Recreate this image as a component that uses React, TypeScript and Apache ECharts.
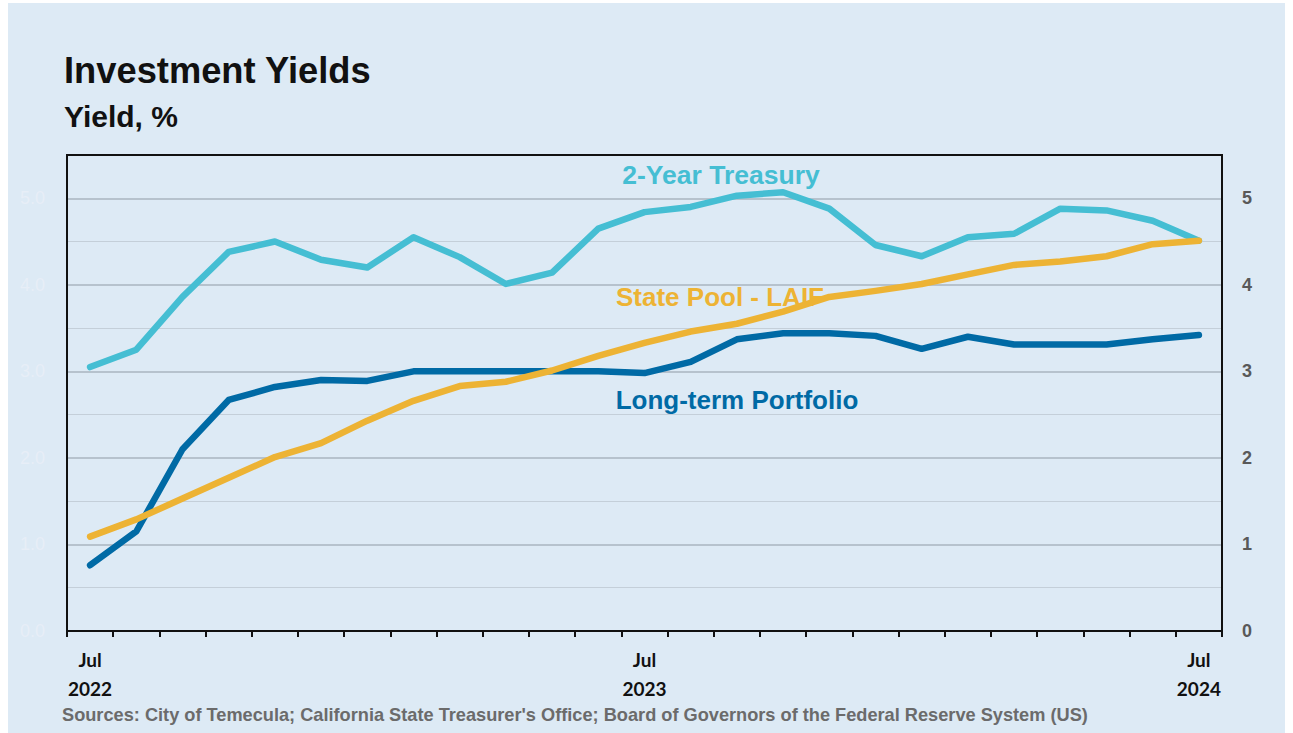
import React, { useEffect, useRef } from "react";
import * as echarts from "echarts";

const months = [
  "Jul 2022", "Aug 2022", "Sep 2022", "Oct 2022", "Nov 2022", "Dec 2022",
  "Jan 2023", "Feb 2023", "Mar 2023", "Apr 2023", "May 2023", "Jun 2023",
  "Jul 2023", "Aug 2023", "Sep 2023", "Oct 2023", "Nov 2023", "Dec 2023",
  "Jan 2024", "Feb 2024", "Mar 2024", "Apr 2024", "May 2024", "Jun 2024",
  "Jul 2024",
];

const treasury2y = [
  3.05, 3.25, 3.86, 4.38, 4.5, 4.29, 4.2, 4.55, 4.32, 4.01, 4.14, 4.65,
  4.84, 4.9, 5.03, 5.07, 4.88, 4.46, 4.33, 4.55, 4.59, 4.88, 4.86, 4.74, 4.51,
];

const longTermPortfolio = [
  0.76, 1.15, 2.1, 2.67, 2.82, 2.9, 2.89, 3.0, 3.0, 3.0, 3.0, 3.0,
  2.98, 3.11, 3.37, 3.44, 3.44, 3.41, 3.26, 3.4, 3.31, 3.31, 3.31, 3.37, 3.42,
];

const statePoolLAIF = [
  1.09, 1.29, 1.53, 1.77, 2.01, 2.17, 2.43, 2.66, 2.83, 2.88, 3.01, 3.18,
  3.33, 3.46, 3.55, 3.69, 3.86, 3.93, 4.01, 4.12, 4.23, 4.27, 4.33, 4.47, 4.51,
];

const titleText = "Investment Yields";
const subtitleText = "Yield, %";
const sourceText =
  "Sources: City of Temecula; California State Treasurer's Office; Board of Governors of the Federal Reserve System (US)";

const C_TREASURY = "#45bed3";
const C_LONG = "#006aa5";
const C_LAIF = "#edb334";

const W = 1277;
const H = 730;
const G_LEFT = 59;
const G_RIGHT = 63;
const G_TOP = 152;
const G_BOTTOM = 102;

export default function App() {
  const ref = useRef<HTMLDivElement>(null);

  useEffect(() => {
    if (!ref.current) return;
    const chart = echarts.init(ref.current, undefined, { renderer: "svg" });
    const lineSeries = (name: string, data: number[], color: string, yAxisIndex = 0) => ({
      name,
      type: "line",
      data,
      yAxisIndex,
      symbol: "none",
      z: 5,
      lineStyle: { color, width: 6.5, cap: "round", join: "round" },
      itemStyle: { color },
    });
    chart.setOption({
      animation: false,
      backgroundColor: "#ddeaf5",
      grid: {
        left: G_LEFT,
        right: G_RIGHT,
        top: G_TOP,
        bottom: G_BOTTOM,
        show: false,
      },
      xAxis: {
        type: "category",
        data: months,
        boundaryGap: true,
        axisLine: { show: true, lineStyle: { color: "#111", width: 2 } },
        axisTick: {
          show: true,
          interval: 0,
          length: 6,
          inside: false,
          lineStyle: { color: "#111", width: 2 },
        },
        axisLabel: {
          interval: (i: number) => i % 12 === 0,
          formatter: (v: string) => {
            const [m, y] = v.split(" ");
            return m + "\n" + y;
          },
          fontFamily: "Lato",
          fontWeight: "bold",
          fontSize: 19,
          color: "#111",
          lineHeight: 29,
          margin: 14,
        },
        splitLine: { show: false },
      },
      yAxis: [
        {
          type: "value",
          position: "left",
          min: 0,
          max: 5.5,
          interval: 0.5,
          axisLine: { show: false },
          axisTick: { show: false },
          axisLabel: {
            formatter: (v: number) => (Math.abs(v - Math.round(v)) < 1e-6 ? v.toFixed(1) : ""),
            color: "#e7eef7",
            fontFamily: "Liberation Sans",
            fontSize: 18,
            margin: 22,
          },
          splitLine: { show: true, lineStyle: { color: "#c4cfd9", width: 1.2 } },
        },
        {
          type: "value",
          position: "right",
          min: 0,
          max: 5.5,
          interval: 1,
          axisLine: { show: false },
          axisTick: { show: false },
          axisLabel: {
            formatter: (v: number) => (Math.abs(v - Math.round(v)) < 1e-6 ? String(v) : ""),
            color: "#595959",
            fontFamily: "Liberation Sans",
            fontWeight: "bold",
            fontSize: 18,
            margin: 20,
          },
          splitLine: { show: true, lineStyle: { color: "#b6c2cd", width: 2.2 } },
        },
      ],
      series: [
        lineSeries("2-Year Treasury", treasury2y, C_TREASURY),
        lineSeries("Long-term Portfolio", longTermPortfolio, C_LONG),
        lineSeries("State Pool - LAIF", statePoolLAIF, C_LAIF),
      ],
      graphic: [
        {
          type: "rect",
          z: 100,
          silent: true,
          shape: {
            x: G_LEFT,
            y: G_TOP,
            width: W - G_LEFT - G_RIGHT,
            height: H - G_TOP - G_BOTTOM,
          },
          style: { fill: "none", stroke: "#111", lineWidth: 2 },
        },
        {
          type: "text",
          left: 56,
          top: 49,
          style: {
            text: titleText,
            fontFamily: "Liberation Sans",
            fontWeight: "bold",
            fontSize: 36.3,
            fill: "#111",
          },
        },
        {
          type: "text",
          left: 56,
          top: 98,
          style: {
            text: subtitleText,
            fontFamily: "Liberation Sans",
            fontWeight: "bold",
            fontSize: 30,
            fill: "#111",
          },
        },
        {
          type: "text",
          x: 713,
          y: 172,
          style: {
            text: "2-Year Treasury",
            fontFamily: "Liberation Sans",
            fontWeight: "bold",
            fontSize: 26.5,
            fill: C_TREASURY,
            align: "center",
            verticalAlign: "middle",
          },
        },
        {
          type: "text",
          x: 712,
          y: 294,
          style: {
            text: "State Pool - LAIF",
            fontFamily: "Liberation Sans",
            fontWeight: "bold",
            fontSize: 26,
            fill: C_LAIF,
            align: "center",
            verticalAlign: "middle",
          },
        },
        {
          type: "text",
          x: 729,
          y: 397,
          style: {
            text: "Long-term Portfolio",
            fontFamily: "Liberation Sans",
            fontWeight: "bold",
            fontSize: 26,
            fill: C_LONG,
            align: "center",
            verticalAlign: "middle",
          },
        },
        {
          type: "text",
          x: 54,
          y: 712,
          style: {
            text: sourceText,
            fontFamily: "Liberation Sans",
            fontWeight: "bold",
            fontSize: 18.2,
            fill: "#6b6b6b",
            verticalAlign: "middle",
          },
        },
      ],
    });
    return () => chart.dispose();
  }, []);

  return (
    <div style={{ position: "fixed", left: 0, top: 0, width: 1293, height: 733, background: "#fff" }}>
      <div
        ref={ref}
        style={{ position: "absolute", left: 8, top: 3, width: W, height: H }}
      />
    </div>
  );
}
